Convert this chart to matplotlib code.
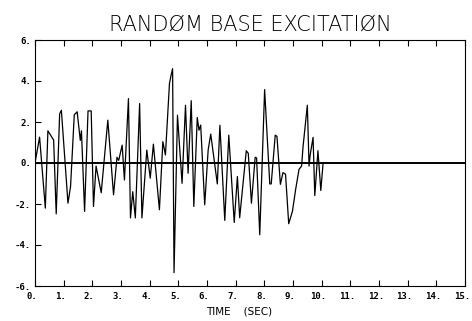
import numpy as np
import matplotlib
matplotlib.use('Agg')
import matplotlib.pyplot as plt
import matplotlib.transforms as mtransforms

# base excitation record (time in sec, acceleration)
time_s = [0.00, 0.16, 0.36, 0.45, 0.65, 0.74, 0.86, 0.92, 1.15, 1.24,
          1.37, 1.47, 1.58, 1.62, 1.73, 1.85, 1.96, 2.04, 2.13, 2.31,
          2.54, 2.74, 2.86, 2.92, 3.04, 3.12, 3.26, 3.33, 3.41, 3.50,
          3.65, 3.73, 3.90, 4.02, 4.13, 4.34, 4.46, 4.55, 4.69, 4.75,
          4.80, 4.85, 4.97, 5.13, 5.25, 5.34, 5.45, 5.54, 5.66, 5.72,
          5.78, 5.92, 6.04, 6.13, 6.36, 6.45, 6.62, 6.76, 6.95, 7.06,
          7.14, 7.37, 7.44, 7.55, 7.68, 7.73, 7.84, 8.01, 8.19, 8.24,
          8.38, 8.44, 8.56, 8.65, 8.74, 8.85, 8.98, 9.09, 9.21, 9.30,
          9.35, 9.50, 9.56, 9.60, 9.70, 9.76, 9.87, 9.97, 10.05]
excitation = [0.00, 1.26, -2.20, 1.57, 1.12, -2.48, 2.40, 2.57, -1.96, -1.15,
              2.35, 2.50, 1.10, 1.57, -2.36, 2.54, 2.54, -2.12, -0.15, -1.45,
              2.09, -1.55, 0.28, 0.13, 0.87, -0.83, 3.14, -2.68, -1.40, -2.68,
              2.90, -2.68, 0.63, -0.74, 0.92, -2.28, 1.04, 0.39, 3.87, 4.30,
              4.60, -5.35, 2.33, -0.99, 2.82, -0.50, 3.04, -2.12, 2.22, 1.60,
              1.85, -2.04, 0.63, 1.41, -1.02, 1.84, -2.80, 1.36, -2.90, -0.66,
              -2.67, 0.60, 0.47, -1.96, 0.28, 0.25, -3.50, 3.58, -1.02, -1.02,
              1.36, 1.30, -1.04, -0.47, -0.55, -2.96, -2.36, -1.31, -0.31, -0.15,
              0.79, 2.82, -0.15, 0.40, 1.25, -1.59, 0.60, -1.34, 0.00]

x_ticks = list(range(0, 16))
y_ticks = [-6, -4, -2, 0, 2, 4, 6]

fig = plt.figure(figsize=(4.72, 3.21), dpi=100)
ax = fig.add_axes([35 / 472, 35 / 321, 430 / 472, 246 / 321])

ax.plot(time_s, excitation, color='black', linewidth=0.9)
ax.axhline(0, color='black', linewidth=1.4)

ax.set_xlim(0, 15)
ax.set_ylim(-6, 6)
ax.set_xticks(x_ticks)
ax.set_xticklabels([f'{v}.' for v in x_ticks])
ax.set_yticks(y_ticks)
ax.set_yticklabels([f'{v}.' for v in y_ticks])

ax.tick_params(axis='x', direction='in', length=4, width=0.8, top=True,
               pad=4, labelsize=6.5)
ax.tick_params(axis='y', direction='in', length=4, width=0.8, right=False,
               pad=3, labelsize=6.5)
# shift x labels a little left so the digits sit on the ticks
shift = mtransforms.ScaledTranslation(-3 / 100, 0, fig.dpi_scale_trans)
for lab in ax.get_xticklabels():
    lab.set_transform(lab.get_transform() + shift)
for lab in ax.get_xticklabels() + ax.get_yticklabels():
    lab.set_fontfamily('DejaVu Sans Mono')
    lab.set_fontweight('bold')

for s in ax.spines.values():
    s.set_linewidth(0.8)

ax.set_title('RANDØM BASE EXCITATIØN', fontsize=15, fontweight='light',
             family='DejaVu Sans', color='black', pad=7)
ax.set_xlabel('TIME    (SEC)', fontsize=7.5, color='black',
              family='DejaVu Sans')
ax.xaxis.set_label_coords(0.474, -0.085)

fig.savefig('out.png', dpi=100)
